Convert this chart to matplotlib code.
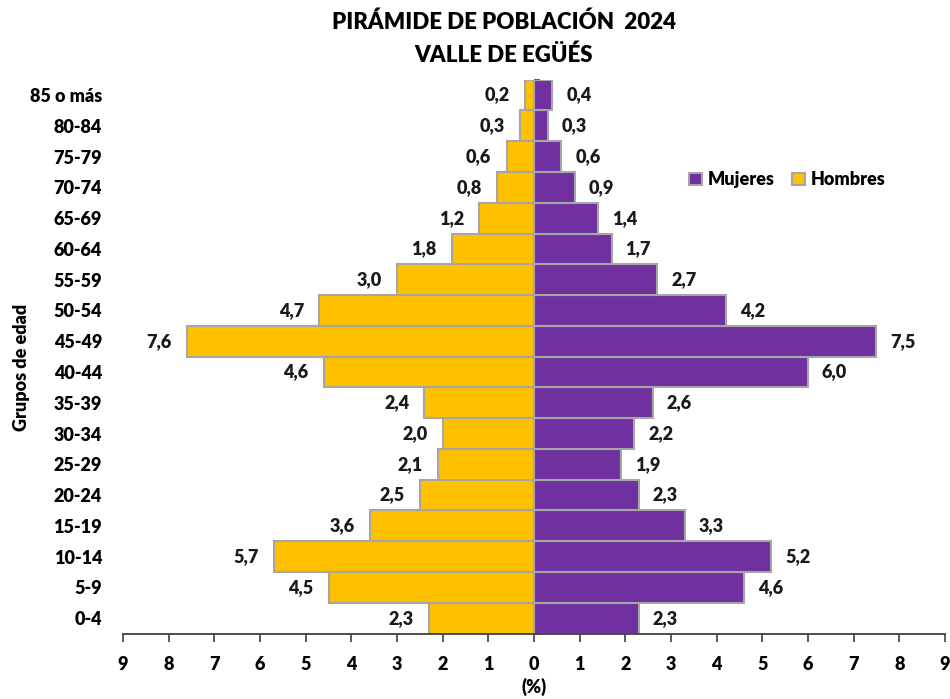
import numpy as np
import matplotlib

matplotlib.use("Agg")
import matplotlib.pyplot as plt

plt.rcParams["font.family"] = ["Lato", "DejaVu Sans"]
W = "heavy"
plt.rcParams["font.weight"] = W

AGES = ["0-4", "5-9", "10-14", "15-19", "20-24", "25-29", "30-34", "35-39",
        "40-44", "45-49", "50-54", "55-59", "60-64", "65-69", "70-74",
        "75-79", "80-84", "85 o más"]
HOMBRES = [2.3, 4.5, 5.7, 3.6, 2.5, 2.1, 2.0, 2.4, 4.6, 7.6, 4.7, 3.0, 1.8,
           1.2, 0.8, 0.6, 0.3, 0.2]
MUJERES = [2.3, 4.6, 5.2, 3.3, 2.3, 1.9, 2.2, 2.6, 6.0, 7.5, 4.2, 2.7, 1.7,
           1.4, 0.9, 0.6, 0.3, 0.4]
XTICKS = list(range(-9, 10))

C_H = "#FFC000"
C_M = "#7030A0"
EDGE = "#A6A6A6"

fig = plt.figure(figsize=(9.5, 6.99), dpi=100)
ax = fig.add_axes([0.1295, 0.0937, 0.8652, 0.7923])

y = np.arange(len(AGES))
bm = ax.barh(y, MUJERES, height=1.0, color=C_M, edgecolor=EDGE, linewidth=1.5,
             label="Mujeres", zorder=2)
bh = ax.barh(y, [-v for v in HOMBRES], height=1.0, color=C_H, edgecolor=EDGE,
             linewidth=1.5, label="Hombres", zorder=2)

# value labels, comma decimal
for yi, v in zip(y, HOMBRES):
    ax.annotate(f"{v:.1f}".replace(".", ","), (-v, yi), xytext=(-11, 0),
                textcoords="offset points", ha="right", va="center",
                fontsize=13, fontweight=W, color="#1a1a1a")
for yi, v in zip(y, MUJERES):
    ax.annotate(f"{v:.1f}".replace(".", ","), (v, yi), xytext=(10, 0),
                textcoords="offset points", ha="left", va="center",
                fontsize=13, fontweight=W, color="#1a1a1a")

ax.set_xlim(-9, 9)
ax.set_ylim(-0.5, len(AGES) - 0.5)
ax.set_xticks(XTICKS)
ax.set_xticklabels([str(abs(t)) for t in XTICKS], fontsize=13, fontweight=W)
ax.tick_params(axis="x", direction="out", length=6, width=1.2, color="#404040",
               pad=10)
ax.set_yticks(y)
ax.set_yticklabels(AGES, fontsize=13, fontweight=W)
ax.tick_params(axis="y", length=0, pad=15)
for s in ["top", "right", "left"]:
    ax.spines[s].set_visible(False)
ax.spines["bottom"].set_color("#404040")
ax.spines["bottom"].set_linewidth(1.3)

# vertical axis at zero with small ticks
sec = ax.secondary_yaxis(0.5)
sec.set_yticks(np.arange(-0.5, len(AGES), 0.5))
sec.set_yticklabels([])
sec.tick_params(direction="out", length=4, width=1.2, color="#404040")
sec.spines["left"].set_color("#404040")
sec.spines["left"].set_linewidth(1.3)

ax.set_ylabel("Grupos de edad", fontsize=13, fontweight=W)
ax.yaxis.set_label_coords(-0.113, 0.48)
ax.set_xlabel("(%)", fontsize=13, fontweight=W, labelpad=4)

ax.legend(handles=[bm, bh], loc="center", bbox_to_anchor=(0.808, 0.819),
          ncol=2, frameon=False, fontsize=13, handlelength=0.7,
          handleheight=0.7, handletextpad=0.3, columnspacing=1.0)

fig.text(0.53, 0.968, "PIRÁMIDE DE POBLACIÓN  2024", ha="center", va="center",
         fontsize=16, fontweight=W)
fig.text(0.53, 0.921, "VALLE DE EGÜÉS", ha="center", va="center",
         fontsize=16, fontweight=W)

fig.savefig("out.png", dpi=100)
